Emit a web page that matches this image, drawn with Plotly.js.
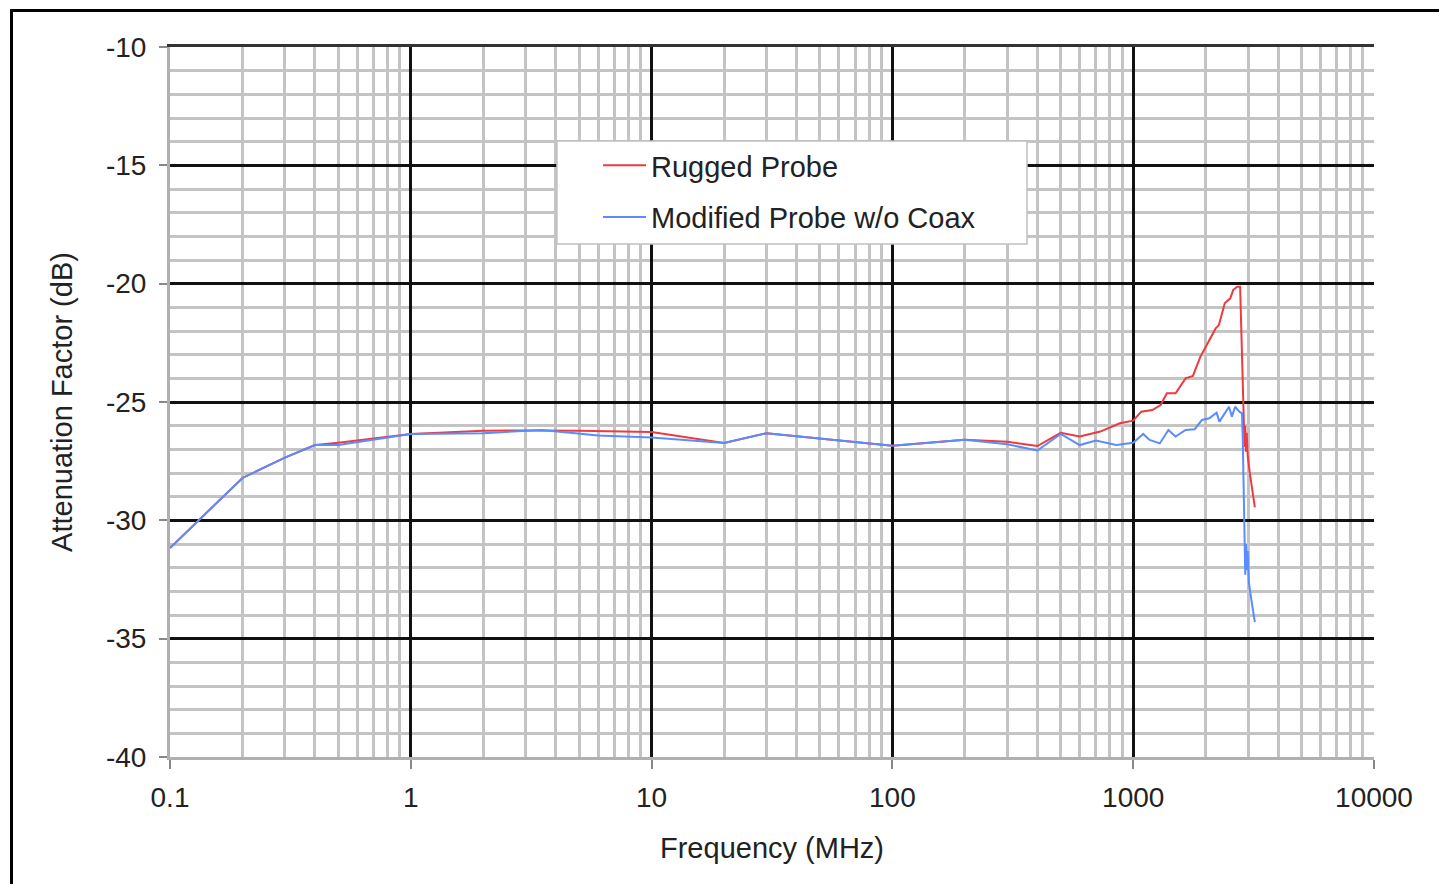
<!DOCTYPE html>
<html>
<head>
<meta charset="utf-8">
<script src="https://cdn.plot.ly/plotly-3.0.1.min.js"></script>
<style>
  html, body { margin: 0; padding: 0; background: #ffffff; width: 1439px; height: 884px; overflow: hidden; }
  #chart { position: absolute; left: 0; top: 0; width: 1439px; height: 884px; }
  #frame { position: absolute; left: 10px; top: 9px; width: 1500px; height: 1000px;
           border-left: 3px solid #000; border-top: 3px solid #000; pointer-events: none; }
</style>
</head>
<body>
<div id="chart"></div>
<div id="frame"></div>
<script>
// ---- data ----
const freqRugged = [0.1, 0.2, 0.3, 0.4, 0.5, 0.7, 1, 2, 3, 5, 10, 20, 30, 100, 200, 300, 400, 500, 600, 730, 880,
  1000, 1080, 1200, 1300, 1380, 1500, 1650, 1770, 1900, 2000, 2200, 2270, 2400, 2530, 2600, 2700, 2780,
  2830, 2860, 2880, 2900, 2920, 2940, 2960, 2990, 3050, 3120, 3200];
const rugged = [-31.17, -28.21, -27.35, -26.82, -26.72, -26.55, -26.35, -26.22, -26.2, -26.22, -26.27, -26.73, -26.32, -26.85, -26.6, -26.68, -26.86, -26.3, -26.46, -26.25, -25.9,
  -25.79, -25.41, -25.34, -25.13, -24.63, -24.63, -24.0, -23.9, -23.09, -22.66, -21.89, -21.75, -20.83, -20.62, -20.27, -20.13, -20.13,
  -23.0, -25.2, -26.1, -26.9, -26.0, -27.1, -26.3, -27.3, -28.0, -28.8, -29.45];

const freqModified = [0.1, 0.2, 0.3, 0.4, 0.5, 1, 2, 3.5, 6, 10, 20, 30, 100, 200, 300, 400, 500, 600, 700, 850,
  1000, 1100, 1170, 1290, 1400, 1500, 1650, 1800, 1930, 2070, 2220, 2280, 2400, 2500, 2570, 2650, 2760, 2830,
  2850, 2880, 2900, 2920, 2940, 2960, 2990, 3020, 3100, 3200];
const modified = [-31.17, -28.21, -27.35, -26.82, -26.82, -26.35, -26.32, -26.18, -26.42, -26.5, -26.73, -26.32, -26.85, -26.6, -26.79, -27.05, -26.35, -26.82, -26.63, -26.82,
  -26.72, -26.35, -26.6, -26.75, -26.18, -26.46, -26.18, -26.15, -25.76, -25.69, -25.45, -25.83, -25.48, -25.2, -25.62, -25.2, -25.41, -25.48,
  -26.5, -28.5, -30.5, -32.3, -31.0, -32.1, -31.3, -32.6, -33.4, -34.3];

const seriesNames = ["Rugged Probe", "Modified Probe w/o Coax"];
const xTickVals = [0.1, 1, 10, 100, 1000, 10000];
const xTickText = ["0.1", "1", "10", "100", "1000", "10000"];
const xMajorGrid = [1, 10, 100, 1000];
const yTickVals = [-40, -35, -30, -25, -20, -15, -10];
const yTickText = ["-40", "-35", "-30", "-25", "-20", "-15", "-10"];
const yMajorGrid = [-35, -30, -25, -20, -15];

// minor log grid positions (1..9 x each decade)
const xMinorGrid = [];
for (let d = -1; d <= 3; d++) for (let k = 1; k <= 9; k++) xMinorGrid.push(k * Math.pow(10, d));
xMinorGrid.push(10000);

const FONT = "Liberation Sans, Arial, sans-serif";
const minorGray = "#c4c4c4";

const traces = [
  { x: freqRugged, y: rugged, name: seriesNames[0], type: "scatter", mode: "lines",
    line: { color: "#ee3a3f", width: 2 }, legendgroup: "a", xaxis: "x", yaxis: "y" },
  { x: freqModified, y: modified, name: seriesNames[1], type: "scatter", mode: "lines",
    line: { color: "#5a8cff", width: 2 }, legendgroup: "b", xaxis: "x", yaxis: "y" },
  { x: [], y: [], xaxis: "x2", yaxis: "y2", showlegend: false, hoverinfo: "skip", type: "scatter" }
];

const layout = {
  width: 1439, height: 884,
  margin: { l: 170, r: 65, t: 47, b: 127 },
  paper_bgcolor: "rgba(0,0,0,0)",
  plot_bgcolor: "#ffffff",
  font: { family: FONT, color: "#222" },
  showlegend: true,
  shapes: [
    // legend frame
    { type: "rect", xref: "paper", yref: "paper", x0: 0.3214, x1: 0.7118, y0: 0.7225, y1: 0.8676,
      fillcolor: "#ffffff", line: { color: "#c0c0c0", width: 1.5 }, layer: "above" }
  ],
  legend: {
    x: 0.3555, y: 0.869, xanchor: "left", yanchor: "top",
    bgcolor: "rgba(0,0,0,0)", borderwidth: 0,
    font: { family: FONT, size: 29, color: "#222" },
    tracegroupgap: 11, traceorder: "grouped", itemwidth: 43
  },
  xaxis: {
    type: "log", range: [-1, 4], fixedrange: true,
    tickmode: "array", tickvals: xTickVals, ticktext: xTickText,
    ticks: "outside", ticklen: 9, tickwidth: 2, tickcolor: "#888",
    tickfont: { family: FONT, size: 28, color: "#222" }, ticklabelstandoff: 4,
    showgrid: false, zeroline: false,
    showline: true, linecolor: "#b0b0b0", linewidth: 3,
    minor: { tickmode: "array", tickvals: xMinorGrid, showgrid: true, gridcolor: minorGray, gridwidth: 3, ticks: "" },
    title: { text: "Frequency (MHz)", font: { family: FONT, size: 29, color: "#222" }, standoff: 27 }
  },
  yaxis: {
    range: [-40, -10], fixedrange: true,
    tickmode: "array", tickvals: yTickVals, ticktext: yTickText,
    ticks: "outside", ticklen: 8, tickwidth: 2, tickcolor: "#888",
    tickfont: { family: FONT, size: 28, color: "#222" }, ticklabelstandoff: 7,
    showgrid: false, zeroline: false,
    showline: true, linecolor: "#b0b0b0", linewidth: 3,
    minor: { dtick: 1, tick0: -40, showgrid: true, gridcolor: minorGray, gridwidth: 3, ticks: "" },
    title: { text: "Attenuation Factor (dB)", font: { family: FONT, size: 29, color: "#222" }, standoff: 25 }
  },
  xaxis2: {
    type: "log", range: [-1, 4], overlaying: "x", anchor: "y2", side: "top",
    tickmode: "array", tickvals: xMajorGrid, showticklabels: false, ticks: "",
    showgrid: true, gridcolor: "#111", gridwidth: 3, zeroline: false,
    showline: true, linecolor: "#333", linewidth: 3, fixedrange: true
  },
  yaxis2: {
    range: [-40, -10], overlaying: "y", anchor: "x2", side: "left",
    tickmode: "array", tickvals: yMajorGrid, showticklabels: false, ticks: "",
    showgrid: true, gridcolor: "#111", gridwidth: 3, zeroline: false, showline: false, fixedrange: true
  }
};

Plotly.newPlot("chart", traces, layout, { displayModeBar: false, staticPlot: true });
</script>
</body>
</html>
